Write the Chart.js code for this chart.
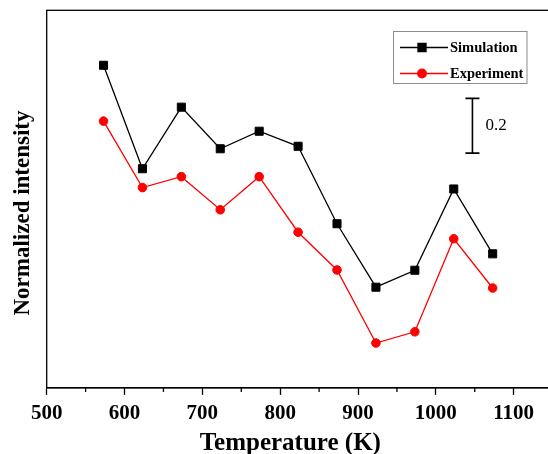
<!DOCTYPE html>
<html>
<head>
<meta charset="utf-8">
<script src="https://cdn.jsdelivr.net/npm/chart.js@4/dist/chart.umd.min.js"></script>
<style>
  html, body { margin: 0; padding: 0; overflow: hidden; background: #fff; }
</style>
</head>
<body>
<canvas id="chart" width="560" height="454"></canvas>
<script>
// values
const temperatures = [573, 623, 673, 723, 773, 823, 873, 923, 973, 1023, 1073];
const simulation = [1.179, 0.801, 1.026, 0.874, 0.938, 0.883, 0.600, 0.368, 0.430, 0.727, 0.490];
const experiment = [0.975, 0.732, 0.772, 0.651, 0.772, 0.569, 0.431, 0.164, 0.205, 0.545, 0.365];
const xTickLabels = [500, 600, 700, 800, 900, 1000, 1100];
const xMinorTicks = [550, 650, 750, 850, 950, 1050];
const scaleBarX = 1047;
const scaleBarRange = [0.858, 1.058];
const scaleBarLabel = '0.2';
const xTitle = 'Temperature (K)';
const yTitle = 'Normalized intensity';

const serif = "'Liberation Serif', 'Times New Roman', serif";

function toPoints(ys) {
  return temperatures.map((t, i) => ({ x: t, y: ys[i] }));
}

// frame, minor ticks, scale bar, axis titles and legend drawn over the chart
const extras = {
  id: 'extras',
  afterDraw(chart) {
    const ctx = chart.ctx;
    const area = chart.chartArea;
    const xs = chart.scales.x;
    const ys = chart.scales.y;
    ctx.save();

    ctx.strokeStyle = '#000';
    ctx.lineWidth = 1.3;
    ctx.strokeRect(area.left, area.top, area.right - area.left, area.bottom - area.top);

    ctx.beginPath();
    xMinorTicks.forEach(v => {
      const px = xs.getPixelForValue(v);
      ctx.moveTo(px, area.bottom);
      ctx.lineTo(px, area.bottom + 4);
    });
    ctx.stroke();

    // 0.2 scale bar
    const bx = xs.getPixelForValue(scaleBarX);
    const b0 = ys.getPixelForValue(scaleBarRange[0]);
    const b1 = ys.getPixelForValue(scaleBarRange[1]);
    ctx.lineWidth = 1.6;
    ctx.beginPath();
    ctx.moveTo(bx, b0); ctx.lineTo(bx, b1);
    ctx.moveTo(bx - 7, b0); ctx.lineTo(bx + 7, b0);
    ctx.moveTo(bx - 7, b1); ctx.lineTo(bx + 7, b1);
    ctx.stroke();
    ctx.fillStyle = '#000';
    ctx.font = '17px ' + serif;
    ctx.textAlign = 'left';
    ctx.textBaseline = 'middle';
    ctx.fillText(scaleBarLabel, bx + 13, (b0 + b1) / 2);

    // axis titles
    ctx.textAlign = 'center';
    ctx.font = 'bold 25px ' + serif;
    ctx.fillText(xTitle, xs.getPixelForValue(813), 444);
    ctx.save();
    ctx.translate(23, 213);
    ctx.rotate(-Math.PI / 2);
    ctx.font = 'bold 23px ' + serif;
    ctx.fillText(yTitle, 0, 0);
    ctx.restore();

    // legend box
    ctx.textAlign = 'left';
    ctx.strokeStyle = '#8c8c8c';
    ctx.lineWidth = 1;
    ctx.strokeRect(393.5, 31.5, 133.5, 52);
    chart.data.datasets.forEach((ds, i) => {
      const yy = 47.5 + i * 26;
      ctx.strokeStyle = ds.borderColor;
      ctx.lineWidth = 1.3;
      ctx.beginPath();
      ctx.moveTo(400, yy); ctx.lineTo(448, yy);
      ctx.stroke();
      ctx.fillStyle = ds.backgroundColor;
      Chart.helpers.drawPoint(ctx, { pointStyle: ds.pointStyle, radius: ds.pointRadius, borderWidth: 1 }, 422, yy);
      ctx.fillStyle = '#000';
      ctx.font = 'bold 14.5px ' + serif;
      ctx.textBaseline = 'middle';
      ctx.fillText(ds.label, 450, yy + 1);
    });

    ctx.restore();
  }
};

new Chart(document.getElementById('chart'), {
  type: 'line',
  data: {
    datasets: [
      {
        label: 'Simulation',
        data: toPoints(simulation),
        borderColor: '#000000',
        backgroundColor: '#000000',
        borderWidth: 1.3,
        pointStyle: 'rect',
        pointRadius: 5.7,
        pointBorderWidth: 1,
        tension: 0
      },
      {
        label: 'Experiment',
        data: toPoints(experiment),
        borderColor: '#ff0000',
        backgroundColor: '#ff0000',
        borderWidth: 1.3,
        pointStyle: 'circle',
        pointRadius: 4.3,
        pointBorderWidth: 1,
        tension: 0
      }
    ]
  },
  options: {
    responsive: false,
    animation: false,
    layout: { padding: { left: 46.7, top: 10.3, right: 7.4, bottom: 22 } },
    plugins: {
      legend: { display: false },
      tooltip: { enabled: false }
    },
    scales: {
      x: {
        type: 'linear',
        min: 500,
        max: 1150,
        border: { display: true, color: '#000', width: 1.3 },
        grid: {
          display: true,
          drawOnChartArea: false,
          tickLength: 7,
          tickWidth: 1.3,
          tickColor: '#000'
        },
        afterBuildTicks(scale) {
          scale.ticks = xTickLabels.map(v => ({ value: v }));
        },
        ticks: {
          autoSkip: false,
          maxRotation: 0,
          padding: 7,
          color: '#000',
          font: { family: serif, size: 21, weight: 'bold', lineHeight: 1.1 },
          callback: v => String(v)
        }
      },
      y: {
        display: false,
        min: 0,
        max: 1.38
      }
    }
  },
  plugins: [extras]
});
</script>
</body>
</html>
